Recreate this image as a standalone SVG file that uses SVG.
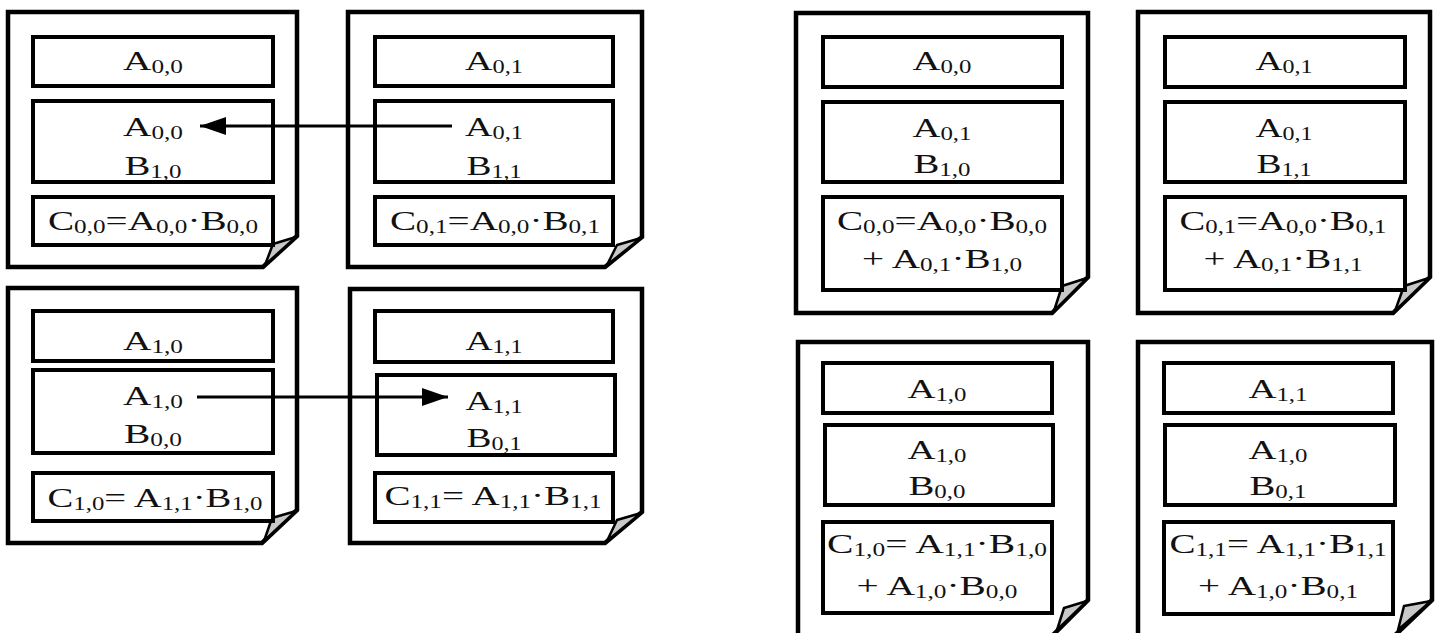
<svg xmlns="http://www.w3.org/2000/svg" width="1437" height="633" viewBox="0 0 1437 633">
<style>
.outer{fill:#fff;stroke:#000;stroke-width:4.5;stroke-linejoin:miter}
.box{fill:#fff;stroke:#000;stroke-width:4}
.flap{fill:#c8c8c8;stroke:#000;stroke-width:2.5;stroke-linejoin:round}
.t{font-family:"Liberation Serif","Times New Roman",serif;font-size:28px;fill:#111;text-anchor:middle}
.s{font-size:18px}
.conn{stroke:#000;stroke-width:3;fill:none}
</style>
<defs>
<marker id="ah" markerUnits="userSpaceOnUse" markerWidth="27" markerHeight="18" refX="26" refY="9" orient="auto">
<path d="M0,0 L26,9 L0,18 Z" fill="#000"/>
</marker>
</defs>
<rect width="1437" height="633" fill="#fff"/>

<g id="p00">
<path class="outer" d="M8,12 H297 V236 L263,267 H8 Z"/>
<path class="flap" d="M296,237 L273,244 L265,265 Z"/>
<rect class="box" x="33" y="37" width="240" height="49"/>
<rect class="box" x="33" y="101" width="240" height="81"/>
<rect class="box" x="33" y="197" width="240" height="48"/>
<text class="t" x="153" y="70" textLength="60" lengthAdjust="spacingAndGlyphs">A<tspan class="s" dy="3">0,0</tspan></text>
<text class="t" x="153" y="136" textLength="60" lengthAdjust="spacingAndGlyphs">A<tspan class="s" dy="3">0,0</tspan></text>
<text class="t" x="153" y="175" textLength="57" lengthAdjust="spacingAndGlyphs">B<tspan class="s" dy="3">1,0</tspan></text>
<text class="t" x="153" y="230" textLength="210" lengthAdjust="spacingAndGlyphs">C<tspan class="s" dy="3">0,0</tspan><tspan dy="-3">=A</tspan><tspan class="s" dy="3">0,0</tspan><tspan dy="-3">·B</tspan><tspan class="s" dy="3">0,0</tspan></text>
</g>

<g id="p01">
<path class="outer" d="M348,12 H642 V237 L605,267 H348 Z"/>
<path class="flap" d="M641,238 L617,245 L607,265 Z"/>
<rect class="box" x="375" y="37" width="238" height="49"/>
<rect class="box" x="375" y="101" width="238" height="81"/>
<rect class="box" x="375" y="197" width="238" height="48"/>
<text class="t" x="494" y="70" textLength="58" lengthAdjust="spacingAndGlyphs">A<tspan class="s" dy="3">0,1</tspan></text>
<text class="t" x="494" y="136" textLength="58" lengthAdjust="spacingAndGlyphs">A<tspan class="s" dy="3">0,1</tspan></text>
<text class="t" x="494" y="175" textLength="55" lengthAdjust="spacingAndGlyphs">B<tspan class="s" dy="3">1,1</tspan></text>
<text class="t" x="495" y="230" textLength="210" lengthAdjust="spacingAndGlyphs">C<tspan class="s" dy="3">0,1</tspan><tspan dy="-3">=A</tspan><tspan class="s" dy="3">0,0</tspan><tspan dy="-3">·B</tspan><tspan class="s" dy="3">0,1</tspan></text>
</g>

<g id="p10">
<path class="outer" d="M8,288 H297 V510 L262,543 H8 Z"/>
<path class="flap" d="M296,511 L272,518 L264,541 Z"/>
<rect class="box" x="33" y="311" width="240" height="50"/>
<rect class="box" x="33" y="370" width="240" height="83"/>
<rect class="box" x="33" y="473" width="240" height="48"/>
<text class="t" x="153" y="350" textLength="60" lengthAdjust="spacingAndGlyphs">A<tspan class="s" dy="3">1,0</tspan></text>
<text class="t" x="153" y="405" textLength="60" lengthAdjust="spacingAndGlyphs">A<tspan class="s" dy="3">1,0</tspan></text>
<text class="t" x="153" y="443" textLength="58" lengthAdjust="spacingAndGlyphs">B<tspan class="s" dy="3">0,0</tspan></text>
<text class="t" x="155" y="507" textLength="215" lengthAdjust="spacingAndGlyphs">C<tspan class="s" dy="3">1,0</tspan><tspan dy="-3">= A</tspan><tspan class="s" dy="3">1,1</tspan><tspan dy="-3">·B</tspan><tspan class="s" dy="3">1,0</tspan></text>
</g>

<g id="p11">
<path class="outer" d="M350,289 H642 V512 L605,543 H350 Z"/>
<path class="flap" d="M641,513 L617,520 L607,541 Z"/>
<rect class="box" x="375" y="311" width="238" height="51"/>
<rect class="box" x="377" y="375" width="238" height="80"/>
<rect class="box" x="375" y="473" width="238" height="49"/>
<text class="t" x="494" y="350" textLength="57" lengthAdjust="spacingAndGlyphs">A<tspan class="s" dy="3">1,1</tspan></text>
<text class="t" x="494" y="410" textLength="57" lengthAdjust="spacingAndGlyphs">A<tspan class="s" dy="3">1,1</tspan></text>
<text class="t" x="494" y="447" textLength="55" lengthAdjust="spacingAndGlyphs">B<tspan class="s" dy="3">0,1</tspan></text>
<text class="t" x="493" y="505" textLength="217" lengthAdjust="spacingAndGlyphs">C<tspan class="s" dy="3">1,1</tspan><tspan dy="-3">= A</tspan><tspan class="s" dy="3">1,1</tspan><tspan dy="-3">·B</tspan><tspan class="s" dy="3">1,1</tspan></text>
</g>

<g id="q00">
<path class="outer" d="M796,13 H1088 V277 L1052,313 H796 Z"/>
<path class="flap" d="M1087,278 L1062,286 L1054,311 Z"/>
<rect class="box" x="823" y="37" width="239" height="50"/>
<rect class="box" x="823" y="102" width="239" height="80"/>
<rect class="box" x="823" y="197" width="239" height="93"/>
<text class="t" x="942" y="70" textLength="59" lengthAdjust="spacingAndGlyphs">A<tspan class="s" dy="3">0,0</tspan></text>
<text class="t" x="942" y="137" textLength="59" lengthAdjust="spacingAndGlyphs">A<tspan class="s" dy="3">0,1</tspan></text>
<text class="t" x="942" y="173" textLength="57" lengthAdjust="spacingAndGlyphs">B<tspan class="s" dy="3">1,0</tspan></text>
<text class="t" x="942" y="230" textLength="210" lengthAdjust="spacingAndGlyphs">C<tspan class="s" dy="3">0,0</tspan><tspan dy="-3">=A</tspan><tspan class="s" dy="3">0,0</tspan><tspan dy="-3">·B</tspan><tspan class="s" dy="3">0,0</tspan></text>
<text class="t" x="942" y="268" textLength="160" lengthAdjust="spacingAndGlyphs">+ A<tspan class="s" dy="3">0,1</tspan><tspan dy="-3">·B</tspan><tspan class="s" dy="3">1,0</tspan></text>
</g>

<g id="q01">
<path class="outer" d="M1138,12 H1430 V277 L1393,313 H1138 Z"/>
<path class="flap" d="M1429,278 L1404,286 L1395,311 Z"/>
<rect class="box" x="1165" y="37" width="240" height="50"/>
<rect class="box" x="1165" y="102" width="240" height="80"/>
<rect class="box" x="1165" y="197" width="240" height="93"/>
<text class="t" x="1284" y="70" textLength="57" lengthAdjust="spacingAndGlyphs">A<tspan class="s" dy="3">0,1</tspan></text>
<text class="t" x="1284" y="137" textLength="57" lengthAdjust="spacingAndGlyphs">A<tspan class="s" dy="3">0,1</tspan></text>
<text class="t" x="1284" y="173" textLength="55" lengthAdjust="spacingAndGlyphs">B<tspan class="s" dy="3">1,1</tspan></text>
<text class="t" x="1283" y="230" textLength="207" lengthAdjust="spacingAndGlyphs">C<tspan class="s" dy="3">0,1</tspan><tspan dy="-3">=A</tspan><tspan class="s" dy="3">0,0</tspan><tspan dy="-3">·B</tspan><tspan class="s" dy="3">0,1</tspan></text>
<text class="t" x="1283" y="268" textLength="159" lengthAdjust="spacingAndGlyphs">+ A<tspan class="s" dy="3">0,1</tspan><tspan dy="-3">·B</tspan><tspan class="s" dy="3">1,1</tspan></text>
</g>

<g id="q10">
<path class="outer" d="M798,342 H1088 V600 L1048,640 H798 Z"/>
<path class="flap" d="M1087,601 L1064,608 L1057,630 Z"/>
<rect class="box" x="823" y="363" width="229" height="50"/>
<rect class="box" x="825" y="425" width="228" height="80"/>
<rect class="box" x="823" y="522" width="229" height="91"/>
<text class="t" x="937" y="398" textLength="59" lengthAdjust="spacingAndGlyphs">A<tspan class="s" dy="3">1,0</tspan></text>
<text class="t" x="937" y="459" textLength="59" lengthAdjust="spacingAndGlyphs">A<tspan class="s" dy="3">1,0</tspan></text>
<text class="t" x="937" y="495" textLength="57" lengthAdjust="spacingAndGlyphs">B<tspan class="s" dy="3">0,0</tspan></text>
<text class="t" x="937" y="553" textLength="220" lengthAdjust="spacingAndGlyphs">C<tspan class="s" dy="3">1,0</tspan><tspan dy="-3">= A</tspan><tspan class="s" dy="3">1,1</tspan><tspan dy="-3">·B</tspan><tspan class="s" dy="3">1,0</tspan></text>
<text class="t" x="937" y="595" textLength="161" lengthAdjust="spacingAndGlyphs">+ A<tspan class="s" dy="3">1,0</tspan><tspan dy="-3">·B</tspan><tspan class="s" dy="3">0,0</tspan></text>
</g>

<g id="q11">
<path class="outer" d="M1138,342 H1432 V600 L1390,640 H1138 Z"/>
<path class="flap" d="M1431,601 L1404,606 L1398,630 Z"/>
<rect class="box" x="1164" y="363" width="229" height="50"/>
<rect class="box" x="1165" y="425" width="230" height="80"/>
<rect class="box" x="1164" y="522" width="229" height="92"/>
<text class="t" x="1278" y="398" textLength="59" lengthAdjust="spacingAndGlyphs">A<tspan class="s" dy="3">1,1</tspan></text>
<text class="t" x="1278" y="459" textLength="59" lengthAdjust="spacingAndGlyphs">A<tspan class="s" dy="3">1,0</tspan></text>
<text class="t" x="1278" y="495" textLength="57" lengthAdjust="spacingAndGlyphs">B<tspan class="s" dy="3">0,1</tspan></text>
<text class="t" x="1278" y="553" textLength="217" lengthAdjust="spacingAndGlyphs">C<tspan class="s" dy="3">1,1</tspan><tspan dy="-3">= A</tspan><tspan class="s" dy="3">1,1</tspan><tspan dy="-3">·B</tspan><tspan class="s" dy="3">1,1</tspan></text>
<text class="t" x="1278" y="595" textLength="160" lengthAdjust="spacingAndGlyphs">+ A<tspan class="s" dy="3">1,0</tspan><tspan dy="-3">·B</tspan><tspan class="s" dy="3">0,1</tspan></text>
</g>

<g id="connectors">
<line class="conn" x1="452" y1="126" x2="200" y2="126" marker-end="url(#ah)"/>
<line class="conn" x1="197" y1="397" x2="448" y2="397" marker-end="url(#ah)"/>
</g>
</svg>
